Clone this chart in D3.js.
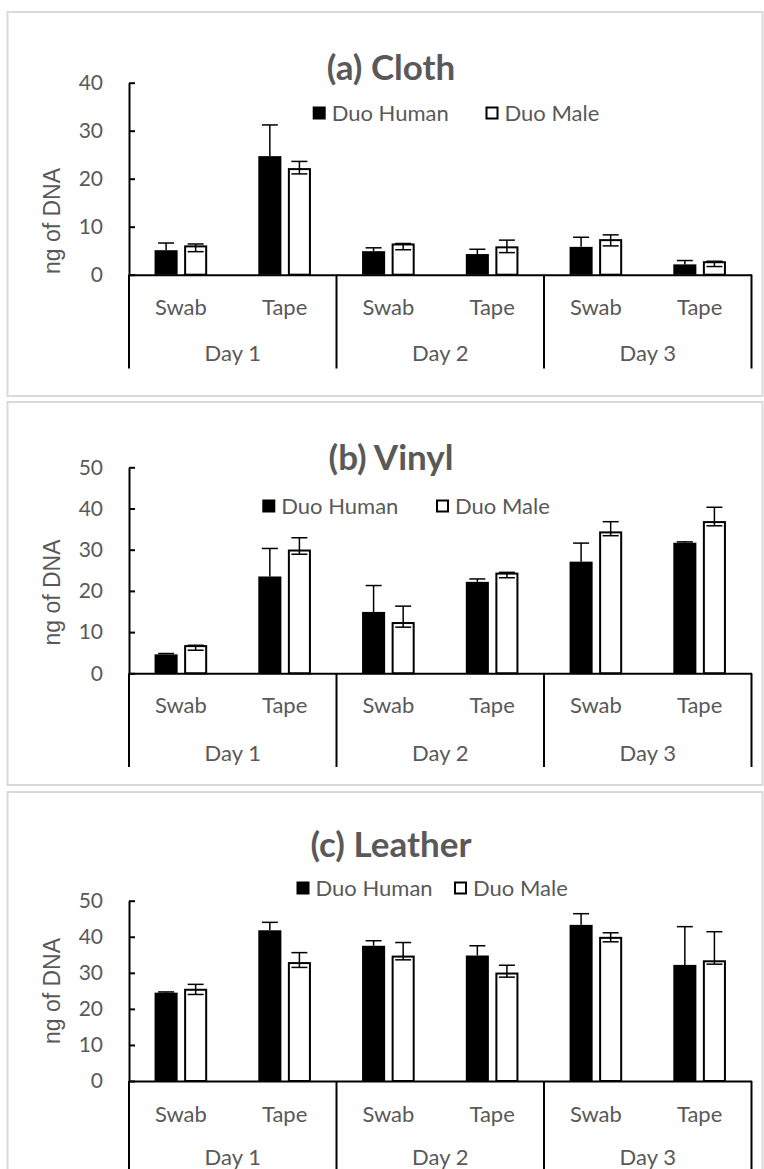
<!DOCTYPE html>
<html>
<head>
<meta charset="utf-8">
<title>DNA recovery</title>
<script src="https://d3js.org/d3.v7.min.js"></script>
<style>
    body { margin: 0; background: #fff; }
    text { font-family: Lato, "Open Sans", sans-serif; fill: #595959; }
</style>
</head>
<body>
<svg id="chart" width="764" height="1169"></svg>
<script>
const days = ["Day 1", "Day 2", "Day 3"]
const methods = ["Swab", "Tape"]
const seriesNames = ["Duo Human", "Duo Male"]

// (a) Cloth  -- order: D1 swab, D1 tape, D2 swab, D2 tape, D3 swab, D3 tape
const clothHuman = [5.1, 24.7, 4.9, 4.3, 5.8, 2.15]
const clothHumanErr = [1.5, 6.5, 0.7, 1.0, 2.0, 0.8]
const clothMale = [5.9, 22.0, 6.3, 5.7, 7.2, 2.6]
const clothMaleErrUp = [0.5, 1.6, 0.2, 1.5, 1.1, 0.2]
const clothMaleErrDown = [1.1, 1.0, 1.1, 1.1, 1.2, 0.9]
const clothTicks = [0, 10, 20, 30, 40]

// (b) Vinyl
const vinylHuman = [4.6, 23.5, 14.9, 22.2, 27.1, 31.7]
const vinylHumanErr = [0.2, 6.8, 6.4, 0.7, 4.5, 0.2]
const vinylMale = [6.6, 29.8, 12.2, 24.2, 34.2, 36.7]
const vinylMaleErrUp = [0.2, 3.1, 4.1, 0.3, 2.6, 3.6]
const vinylMaleErrDown = [1.0, 0.9, 1.0, 1.0, 0.8, 0.9]
const vinylTicks = [0, 10, 20, 30, 40, 50]

// (c) Leather
const leatherHuman = [24.5, 41.8, 37.5, 34.8, 43.3, 32.2]
const leatherHumanErr = [0.2, 2.2, 1.4, 2.7, 3.1, 10.6]
const leatherMale = [25.3, 32.7, 34.5, 29.8, 39.7, 33.2]
const leatherMaleErrUp = [1.5, 2.9, 3.9, 2.3, 1.4, 8.2]
const leatherMaleErrDown = [1.3, 1.2, 0.9, 1.0, 1.1, 0.8]
const leatherTicks = [0, 10, 20, 30, 40, 50]

const svg = d3.select("#chart")
const left = 129, right = 751.5

const panels = [
    {
        title: "(a) Cloth", human: clothHuman, humanErr: clothHumanErr,
        male: clothMale, maleUp: clothMaleErrUp, maleDown: clothMaleErrDown, ticks: clothTicks,
        frame: [12, 396], top: 82.7, base: 274.7, subY: 307, dayY: 353, divBottom: 368.5,
        titleY: 66, legendY: 113, legendX: [312.7, 485.5], yTitleY: 221
    },
    {
        title: "(b) Vinyl", human: vinylHuman, humanErr: vinylHumanErr,
        male: vinylMale, maleUp: vinylMaleErrUp, maleDown: vinylMaleErrDown, ticks: vinylTicks,
        frame: [402, 785], top: 467.3, base: 673.3, subY: 705.5, dayY: 753.3, divBottom: 767,
        titleY: 456, legendY: 506, legendX: [262.3, 436], yTitleY: 592.5
    },
    {
        title: "(c) Leather", human: leatherHuman, humanErr: leatherHumanErr,
        male: leatherMale, maleUp: leatherMaleErrUp, maleDown: leatherMaleErrDown, ticks: leatherTicks,
        frame: [792, 1185], top: 900.7, base: 1081, subY: 1114, dayY: 1157, divBottom: 1175,
        titleY: 843, legendY: 888, legendX: [296.5, 454], yTitleY: 991
    }
]

function drawPanel(p) {
    const g = svg.append("g")

    g.append("rect")
        .attr("x", 7.5).attr("y", p.frame[0])
        .attr("width", 755).attr("height", p.frame[1] - p.frame[0])
        .attr("fill", "#fff").attr("stroke", "#d9d9d9").attr("stroke-width", 2)

    const keys = days.flatMap(d => methods.map(m => d + "|" + m))
    const x0 = d3.scaleBand().domain(keys).range([left, right])
    const x1 = d3.scaleBand().domain(seriesNames)
        .range([0, x0.bandwidth()]).paddingInner(0.22).paddingOuter(0.865)
    const xDay = d3.scaleBand().domain(days).range([left, right])
    const maxV = p.ticks[p.ticks.length - 1]
    const y = d3.scaleLinear().domain([0, maxV]).range([p.base, p.top])

    // title
    g.append("text")
        .attr("x", 391).attr("y", p.titleY)
        .attr("text-anchor", "middle").attr("dominant-baseline", "central")
        .style("font-size", "35px").style("font-weight", "bold")
        .text(p.title)

    // y title
    g.append("text")
        .attr("transform", `translate(52,${p.yTitleY}) rotate(-90)`)
        .attr("text-anchor", "middle").attr("dy", "0.35em")
        .style("font-family", "'Liberation Sans', Arial, sans-serif")
        .style("font-size", "23px")
        .text("ng of DNA")

    // bars
    const rows = []
    keys.forEach((k, i) => {
        rows.push({ key: k, s: "Duo Human", v: p.human[i], up: p.humanErr[i], down: 0 })
        rows.push({ key: k, s: "Duo Male", v: p.male[i], up: p.maleUp[i], down: p.maleDown[i] })
    })

    g.selectAll("rect.bar")
        .data(rows)
        .enter()
        .append("rect")
        .attr("class", "bar")
        .attr("x", d => x0(d.key) + x1(d.s) + (d.s == "Duo Male" ? 1 : 0))
        .attr("y", d => y(d.v))
        .attr("width", d => x1.bandwidth() - (d.s == "Duo Male" ? 2 : 0))
        .attr("height", d => p.base - y(d.v))
        .attr("fill", d => d.s == "Duo Human" ? "#000" : "#fff")
        .attr("stroke", d => d.s == "Duo Human" ? "none" : "#000")
        .attr("stroke-width", 2)

    // error bars
    const cx = d => x0(d.key) + x1(d.s) + x1.bandwidth() / 2
    const eb = g.selectAll("g.err").data(rows).enter().append("g")
        .attr("stroke", "#000").attr("stroke-width", 1.5)
    eb.append("line")
        .attr("x1", cx).attr("x2", cx)
        .attr("y1", d => y(d.v - d.down)).attr("y2", d => y(d.v + d.up))
    eb.append("line")
        .attr("x1", d => cx(d) - 8).attr("x2", d => cx(d) + 8)
        .attr("y1", d => y(d.v + d.up)).attr("y2", d => y(d.v + d.up))
    eb.filter(d => d.down > 0).append("line")
        .attr("x1", d => cx(d) - 8).attr("x2", d => cx(d) + 8)
        .attr("y1", d => y(d.v - d.down)).attr("y2", d => y(d.v - d.down))

    // y axis, ticks inside
    const ya = g.append("g")
        .attr("transform", `translate(${left},0)`)
        .call(d3.axisLeft(y).tickValues(p.ticks).tickSizeInner(-6).tickSizeOuter(0).tickPadding(26))
    ya.select(".domain").attr("stroke", "#000").attr("stroke-width", 2)
    ya.selectAll(".tick line").attr("stroke", "#000").attr("stroke-width", 2)
    ya.selectAll(".tick text").style("font-size", "21px")

    // x axis with method labels
    const xa = g.append("g")
        .attr("transform", `translate(0,${p.base})`)
        .call(d3.axisBottom(x0).tickSize(0).tickFormat(k => k.split("|")[1]))
    xa.select(".domain").attr("stroke", "#000").attr("stroke-width", 2)
    xa.selectAll(".tick text")
        .attr("y", p.subY - p.base).attr("dy", "0.35em")
        .style("font-size", "22px")

    // day separators
    const edges = days.map(d => xDay(d)).concat([right])
    g.selectAll("line.sep")
        .data(edges)
        .enter()
        .append("line")
        .attr("x1", d => d).attr("x2", d => d)
        .attr("y1", p.base).attr("y2", p.divBottom)
        .attr("stroke", "#000").attr("stroke-width", 2)

    g.selectAll("text.day")
        .data(days)
        .enter()
        .append("text")
        .attr("x", d => xDay(d) + xDay.bandwidth() / 2)
        .attr("y", p.dayY)
        .attr("text-anchor", "middle").attr("dy", "0.35em")
        .style("font-size", "22px")
        .text(d => d)

    // legend
    seriesNames.forEach((s, i) => {
        g.append("rect")
            .attr("x", p.legendX[i] + (i ? 1 : 0)).attr("y", p.legendY - 6.5 + (i ? 1 : 0))
            .attr("width", 13 - (i ? 2 : 0)).attr("height", 13 - (i ? 2 : 0))
            .attr("fill", i ? "#fff" : "#000")
            .attr("stroke", i ? "#000" : "none").attr("stroke-width", 2)
        g.append("text")
            .attr("x", p.legendX[i] + 19).attr("y", p.legendY)
            .attr("dy", "0.35em")
            .style("font-size", "22px")
            .text(s)
    })
}

panels.forEach(drawPanel)
</script>
</body>
</html>
